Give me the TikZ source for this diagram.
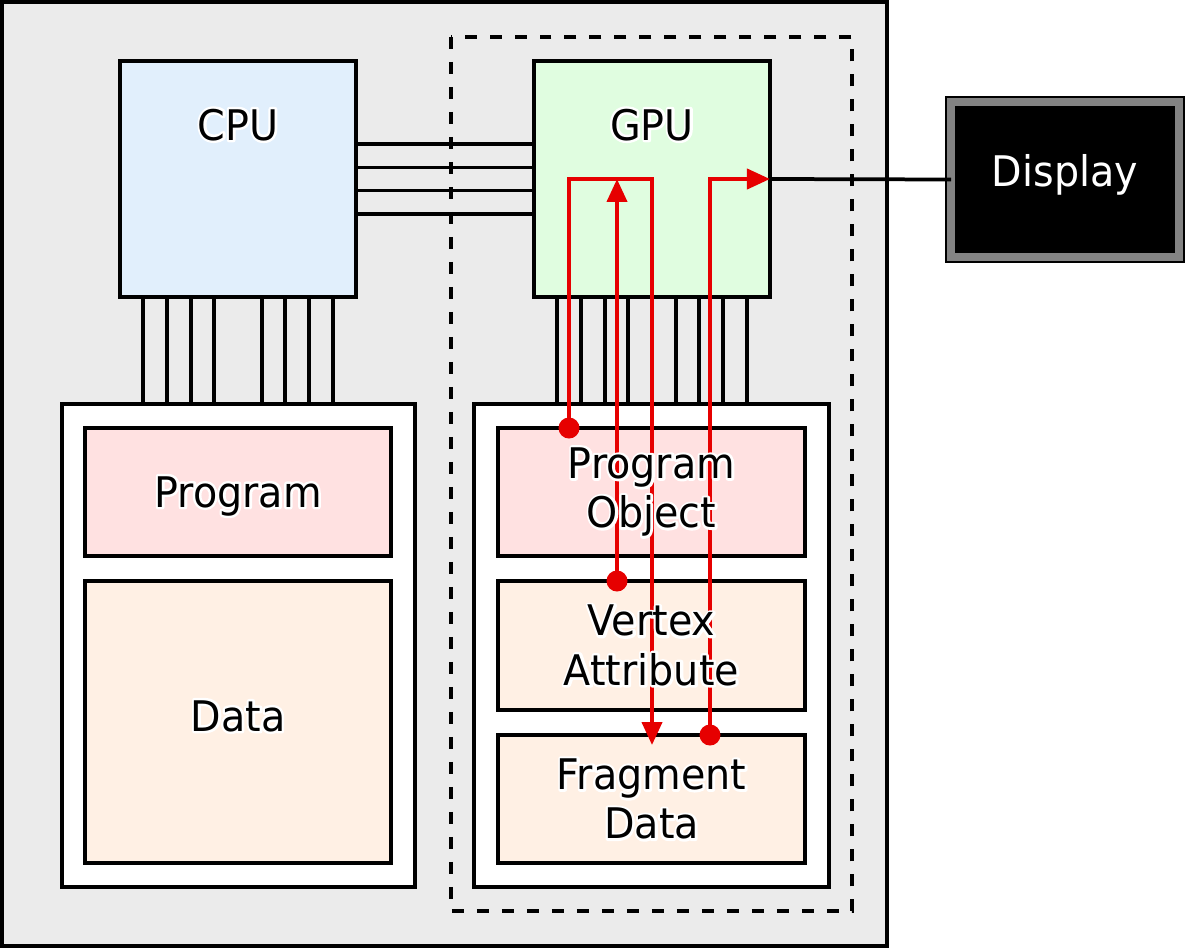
\documentclass[tikz,border=0pt]{standalone}
\usepackage{fontspec}
\setmainfont[FakeStretch=0.94]{DejaVu Sans}
\usetikzlibrary{arrows.meta}

\definecolor{chipgray}{HTML}{EBEBEB}
\definecolor{cpublue}{HTML}{E1EFFC}
\definecolor{gpugreen}{HTML}{E0FDE0}
\definecolor{progpink}{HTML}{FFE1E1}
\definecolor{datacream}{HTML}{FFF0E4}
\definecolor{flowred}{HTML}{E60000}
\definecolor{framegray}{HTML}{838383}

% white rim round black text
\newcommand{\halo}[1]{\leavevmode\rlap{\special{pdf:literal direct 1 Tr 2.8 w 1 j 1 1 1 RG}#1\special{pdf:literal direct 0 Tr}}#1}

\tikzset{
  box/.style={draw, line width=0.08cm, inner sep=0, outer sep=0},
  bus/.style={line width=0.075cm},
  flow/.style={draw=flowred, line width=0.08cm, -{Triangle[length=0.46cm, width=0.4cm]}},
  lbl/.style={font=\fontsize{24}{28}\selectfont, align=center, inner sep=0}
}

\begin{document}
\begin{tikzpicture}[x=0.02cm, y=-0.02cm]
  \useasboundingbox (0,0) rectangle (1186,950);
  \draw[box, fill=chipgray] (2,2) rectangle (887,946);
  \draw[line width=0.07cm, dash pattern=on 0.24cm off 0.26cm] (451,37) rectangle (852,911);

  \node[box, fill=cpublue, minimum width=4.72cm, minimum height=4.72cm] (CPU) at (238,179) {};
  \node[box, fill=gpugreen, minimum width=4.72cm, minimum height=4.72cm] (GPU) at (652,179) {};
  \node[box, fill=black, line width=0.04cm, double=framegray, double distance=0.16cm,
        minimum width=4.56cm, minimum height=3.1cm] (Display) at (1065,179.5) {};

  \node[box, fill=white, minimum width=7.06cm, minimum height=9.66cm] (LeftMem) at (238.5,645.5) {};
  \node[box, fill=white, minimum width=7.1cm, minimum height=9.66cm] (RightMem) at (651.5,645.5) {};
  \node[box, fill=progpink, minimum width=6.12cm, minimum height=2.56cm] (Prog) at (238,492) {};
  \node[box, fill=datacream, minimum width=6.12cm, minimum height=5.64cm] (Data) at (238,722) {};
  \node[box, fill=progpink, minimum width=6.14cm, minimum height=2.56cm] (PObj) at (651.5,492) {};
  \node[box, fill=datacream, minimum width=6.14cm, minimum height=2.58cm] (VAttr) at (651.5,645.5) {};
  \node[box, fill=datacream, minimum width=6.14cm, minimum height=2.56cm] (FData) at (651.5,799) {};

  % buses
  \foreach \dy in {35,11.5,-11.5,-35}
    \draw[bus] ([yshift=\dy*0.02cm]CPU.east) -- ([yshift=\dy*0.02cm]GPU.west);
  \foreach \dx in {-95,-71,-47,-24,24,47,71,95} {
    \coordinate (cb) at ([xshift=\dx*0.02cm]CPU.south);
    \coordinate (gb) at ([xshift=\dx*0.02cm]GPU.south);
    \draw[bus] (cb) -- (cb |- LeftMem.north);
    \draw[bus] (gb) -- (gb |- RightMem.north);
  }
  \draw[bus] (GPU.east) -- (Display.west);

  % data flow
  \coordinate (s1) at ([xshift=-1.65cm]PObj.north);
  \coordinate (s2) at ([xshift=-0.69cm]VAttr.north);
  \coordinate (s3) at ([xshift=1.17cm]FData.north);
  \coordinate (t1) at ([yshift=-0.2cm]FData.north);
  \draw[flow] (s1) |- (GPU.center) -- (GPU.center |- t1);
  \draw[flow] (s2) -- (s2 |- GPU.center);
  \draw[flow] (s3) |- (GPU.east);
  \fill[flowred] (s1) circle (0.21cm) (s2) circle (0.21cm) (s3) circle (0.21cm);

  \node[lbl, anchor=base] (cpulbl) at (238,140) {\halo{CPU}};
  \node[lbl, anchor=base] (gpulbl) at (652,140) {\halo{GPU}};
  \node[lbl, anchor=base, text=white] (displbl) at (1065,186) {Display};
  \node[lbl, anchor=base] (proglbl) at (238,507) {\halo{Program}};
  \node[lbl, anchor=base] (datalbl) at (238,731) {\halo{Data}};
  \node[lbl] (pobjlbl) at (PObj) {\halo{Program}\\\halo{Object}};
  \node[lbl] (vattrlbl) at (VAttr) {\halo{Vertex}\\\halo{Attribute}};
  \node[lbl] (fdatalbl) at (FData) {\halo{Fragment}\\\halo{Data}};
\end{tikzpicture}
\end{document}
